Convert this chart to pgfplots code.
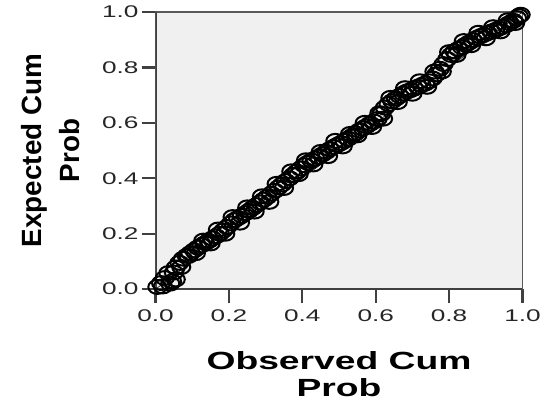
\documentclass[border=0pt]{standalone}
\usepackage{pgfplots}
\pgfplotsset{compat=1.18}
\usepackage{fontspec}
\setmainfont{Liberation Sans}
\usepackage{graphicx}
\begin{document}
\begin{tikzpicture}
\begin{axis}[
  name=ax,
  scale only axis,
  width=368bp, height=278bp,
  xmin=0, xmax=1, ymin=0, ymax=1,
  xtick={0,0.2,0.4,0.6,0.8,1},
  ytick={0,0.2,0.4,0.6,0.8,1},
  axis background/.style={fill=black!6},
  axis line style={line width=1.2bp, black!65},
  tick align=outside,
  xtick pos=bottom, ytick pos=left,
  major tick length=14bp,
  major tick style={line width=2.2bp, black!75},
  /pgf/number format/assume math mode=true,
  xticklabel={\scalebox{1.55}[1]{\pgfmathprintnumber[fixed,fixed zerofill,precision=1]{\tick}}},
  yticklabel={\scalebox{1.55}[1]{\pgfmathprintnumber[fixed,fixed zerofill,precision=1]{\tick}}},
  ticklabel style={font=\fontsize{17}{20}\selectfont, text=black!85},
  xticklabel style={inner ysep=6bp},
  yticklabel style={inner xsep=3bp},
  xlabel={\scalebox{1.5}[1]{Observed Cum}\\\scalebox{1.5}[1]{Prob}},
  ylabel={Expected Cum\\Prob},
  xlabel style={at={(axis description cs:0.5,-0.223)}, anchor=north, inner sep=0pt, align=center, font=\bfseries\fontsize{25}{28}\selectfont},
  ylabel style={at={(axis description cs:-0.2065,0.5)}, anchor=south, inner sep=0pt, align=center, font=\bfseries\fontsize{28}{38}\selectfont},
]
\addplot[black, line width=0.6bp] coordinates {(0,0) (1,1)};
\addplot[only marks, mark=o, mark size=7bp, mark options={xscale=1.3, line width=2bp, black}] table {
x y
0.005 0.008
0.015 0.022
0.025 0.040
0.035 0.058
0.045 0.028
0.055 0.035
0.055 0.078
0.065 0.095
0.075 0.110
0.085 0.120
0.095 0.130
0.105 0.140
0.115 0.150
0.125 0.158
0.135 0.166
0.145 0.174
0.155 0.183
0.165 0.191
0.175 0.200
0.185 0.212
0.195 0.224
0.205 0.237
0.215 0.249
0.225 0.257
0.235 0.265
0.245 0.274
0.255 0.283
0.265 0.293
0.275 0.303
0.285 0.313
0.295 0.323
0.305 0.333
0.315 0.344
0.325 0.355
0.335 0.367
0.345 0.378
0.355 0.390
0.365 0.400
0.375 0.412
0.385 0.424
0.395 0.435
0.405 0.447
0.415 0.456
0.425 0.464
0.435 0.471
0.445 0.478
0.455 0.486
0.465 0.495
0.475 0.505
0.485 0.513
0.495 0.520
0.505 0.527
0.515 0.535
0.525 0.543
0.535 0.552
0.545 0.562
0.555 0.572
0.565 0.580
0.575 0.588
0.585 0.597
0.595 0.605
0.605 0.614
0.615 0.632
0.625 0.655
0.635 0.668
0.645 0.678
0.655 0.688
0.665 0.697
0.675 0.706
0.685 0.713
0.695 0.718
0.705 0.724
0.715 0.730
0.725 0.736
0.735 0.742
0.745 0.750
0.755 0.760
0.765 0.775
0.775 0.795
0.785 0.812
0.795 0.830
0.805 0.845
0.815 0.858
0.825 0.866
0.835 0.873
0.845 0.882
0.855 0.890
0.865 0.898
0.875 0.906
0.885 0.912
0.895 0.918
0.905 0.924
0.915 0.929
0.925 0.934
0.935 0.940
0.945 0.946
0.955 0.952
0.965 0.960
0.975 0.968
0.985 0.978
0.995 0.990
};
\addplot[only marks, mark=o, mark size=7bp, mark options={xscale=1.3, line width=2bp, black}] table {
x y
0.02 0.010
0.04 0.020
0.05 0.060
0.07 0.080
0.09 0.120
0.11 0.130
0.13 0.175
0.15 0.165
0.17 0.215
0.19 0.200
0.21 0.260
0.23 0.240
0.25 0.295
0.27 0.280
0.29 0.335
0.31 0.315
0.33 0.380
0.35 0.365
0.37 0.425
0.39 0.415
0.41 0.465
0.43 0.450
0.45 0.495
0.47 0.480
0.49 0.535
0.51 0.515
0.53 0.560
0.55 0.555
0.57 0.600
0.59 0.585
0.61 0.635
0.62 0.615
0.64 0.690
0.66 0.675
0.68 0.725
0.70 0.705
0.72 0.750
0.74 0.730
0.76 0.785
0.78 0.785
0.80 0.855
0.82 0.845
0.84 0.895
0.86 0.880
0.88 0.925
0.90 0.905
0.92 0.945
0.94 0.930
0.96 0.970
0.98 0.960
0.99 0.985
};
\draw[line width=2.5bp, black!75] (rel axis cs:0,1) -- (rel axis cs:0,0) -- (rel axis cs:1,0);
\end{axis}
\path ([shift={(-156bp,-115bp)}]ax.south west) rectangle ([shift={(388bp,290bp)}]ax.south west);
\end{tikzpicture}
\end{document}
